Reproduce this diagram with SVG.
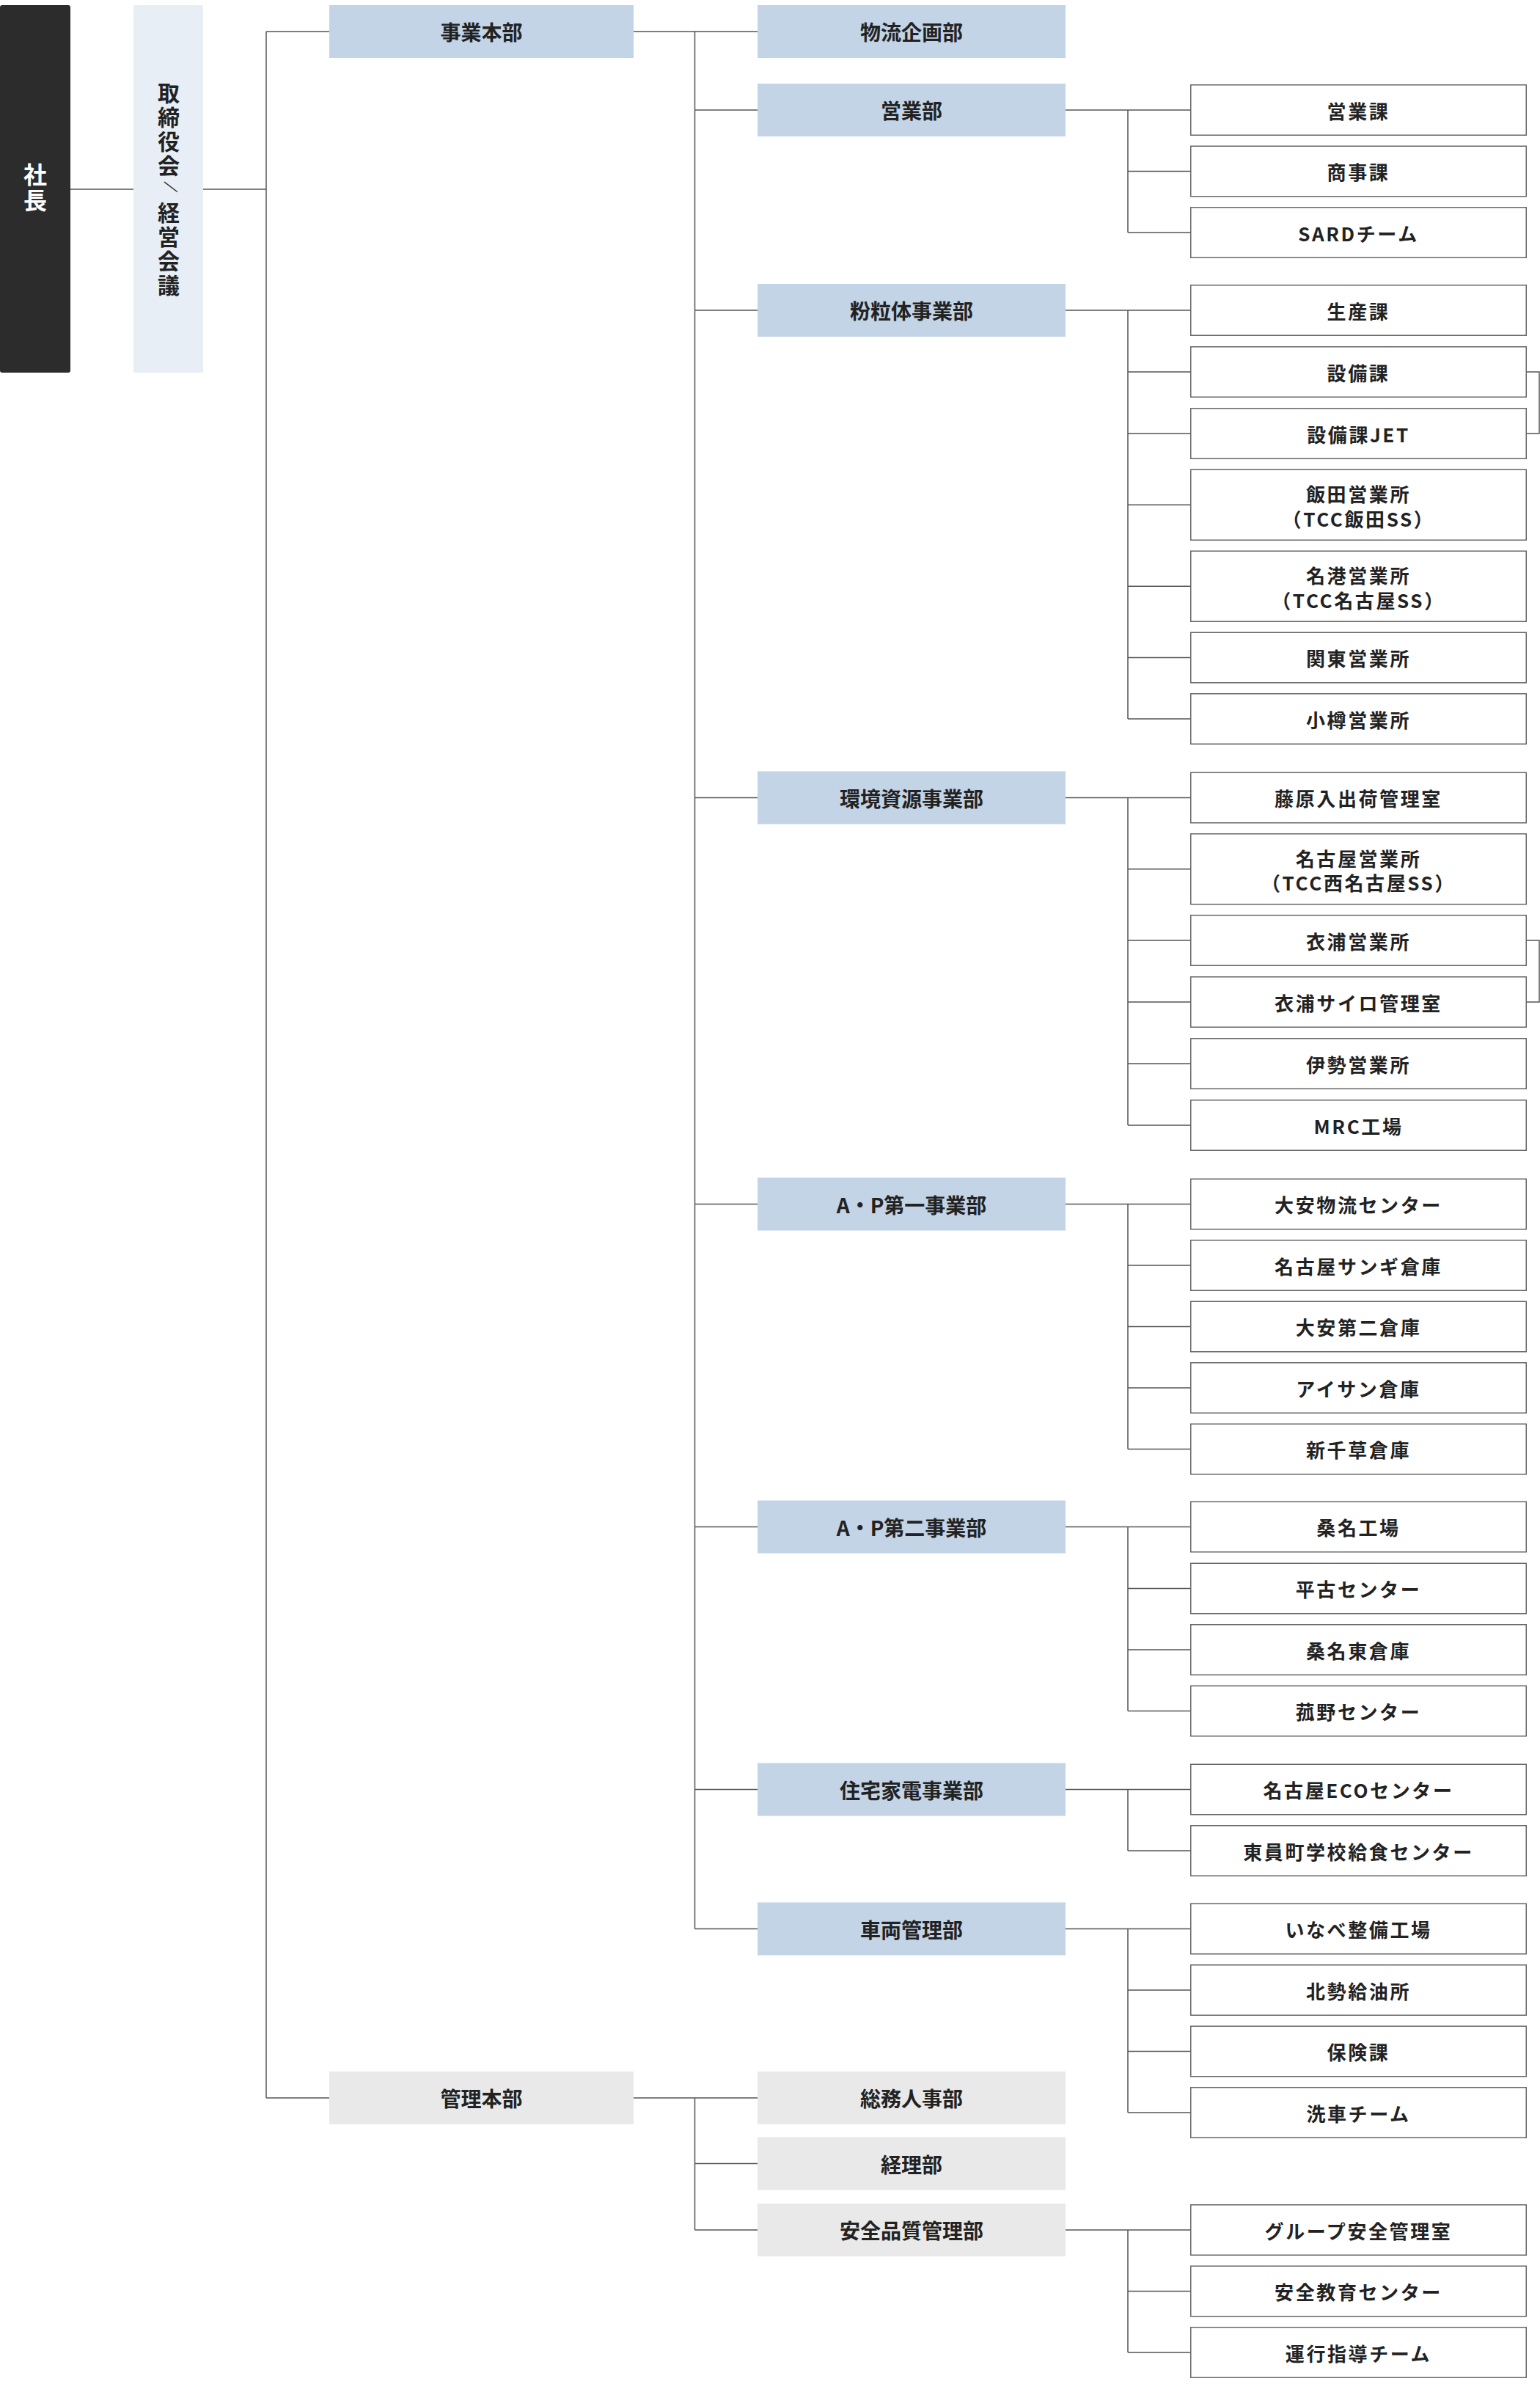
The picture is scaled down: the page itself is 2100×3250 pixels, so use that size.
<svg xmlns="http://www.w3.org/2000/svg" width="2100" height="3250" viewBox="0 0 2100 3250">
<style>
.bg{fill:#ffffff}
.ln{fill:none;stroke:#555555;stroke-width:1.5}
.pres{fill:#2c2c2c}
.board{fill:#e8eef6}
.blue{fill:#c2d4e6}
.gray{fill:#e9e9e9}
.sub{fill:#ffffff;stroke:#666666;stroke-width:1.5}
text{font-family:"Noto Sans CJK JP","Noto Sans",sans-serif;font-weight:700;fill:#222222;text-anchor:middle;dominant-baseline:central}
.t2{font-size:28px}
.t3{font-size:26px;letter-spacing:2.6px}
.vt{writing-mode:vertical-rl}
.tw{fill:#ffffff;font-size:32px;letter-spacing:3px}
.tb{font-size:30px;letter-spacing:2.8px;text-anchor:start}
.sl{font-size:22px;font-weight:400;fill:#333333}
</style>
<rect class="bg" x="0" y="0" width="2100" height="3250"/>

<g id="connectors">
<path class="ln" d="M96,258H182 M277,258H363 M363,43V2860 M363,43H449 M363,2860H449"/>
<path class="ln" d="M864,43H1033 M947.5,43V2629.5 M947.5,150H1033 M947.5,423H1033 M947.5,1087.5H1033 M947.5,1641.5H1033 M947.5,2081.5H1033 M947.5,2439.5H1033 M947.5,2629.5H1033"/>
<path class="ln" d="M864,2860H1033 M947.5,2860V3040 M947.5,2949.5H1033 M947.5,3040H1033"/>
<path class="ln" d="M1453,150H1623 M1538,150V317 M1538,233.5H1623 M1538,317H1623"/>
<path class="ln" d="M1453,423H1623 M1538,423V980 M1538,507H1623 M1538,591H1623 M1538,688.25H1623 M1538,799.25H1623 M1538,896.5H1623 M1538,980H1623"/>
<path class="ln" d="M2082,507H2099V591H2082"/>
<path class="ln" d="M1453,1087.5H1623 M1538,1087.5V1534 M1538,1184.75H1623 M1538,1282H1623 M1538,1366H1623 M1538,1450H1623 M1538,1534H1623"/>
<path class="ln" d="M2082,1282H2099V1366H2082"/>
<path class="ln" d="M1453,1641.5H1623 M1538,1641.5V1975.5 M1538,1725H1623 M1538,1808.5H1623 M1538,1892H1623 M1538,1975.5H1623"/>
<path class="ln" d="M1453,2081.5H1623 M1538,2081.5V2332.5 M1538,2165.5H1623 M1538,2249H1623 M1538,2332.5H1623"/>
<path class="ln" d="M1453,2439.5H1623 M1538,2439.5V2523 M1538,2523H1623"/>
<path class="ln" d="M1453,2629.5H1623 M1538,2629.5V2880 M1538,2713H1623 M1538,2796.5H1623 M1538,2880H1623"/>
<path class="ln" d="M1453,3040H1623 M1538,3040V3207 M1538,3123.5H1623 M1538,3207H1623"/>
</g>

<g id="president"><rect class="pres" x="0" y="7" width="96" height="501" rx="3"/><text class="vt tw" x="48" y="257">社長</text></g>
<g id="board"><rect class="board" x="182" y="7" width="95" height="501" rx="2"/><text class="vt tb" x="230" y="112">取締役会</text><text class="sl" x="236" y="256" transform="rotate(110 236 256)">/</text><text class="vt tb" x="230" y="275">経営会議</text></g>

<g id="jigyo-honbu"><rect class="blue" x="449" y="7" width="415" height="72"/><text class="t2" x="656.5" y="43">事業本部</text></g>
<g id="kanri-honbu"><rect class="gray" x="449" y="2824" width="415" height="72"/><text class="t2" x="656.5" y="2860">管理本部</text></g>

<g id="butsuryu-kikaku"><rect class="blue" x="1033" y="7" width="420" height="72"/><text class="t2" x="1243" y="43">物流企画部</text></g>
<g id="eigyo"><rect class="blue" x="1033" y="114" width="420" height="72"/><text class="t2" x="1243" y="150">営業部</text></g>
<g id="funryutai"><rect class="blue" x="1033" y="387" width="420" height="72"/><text class="t2" x="1243" y="423">粉粒体事業部</text></g>
<g id="kankyo"><rect class="blue" x="1033" y="1051.5" width="420" height="72"/><text class="t2" x="1243" y="1087.5">環境資源事業部</text></g>
<g id="ap1"><rect class="blue" x="1033" y="1605.5" width="420" height="72"/><text class="t2" x="1243" y="1641.5">A・P第一事業部</text></g>
<g id="ap2"><rect class="blue" x="1033" y="2045.5" width="420" height="72"/><text class="t2" x="1243" y="2081.5">A・P第二事業部</text></g>
<g id="jutaku"><rect class="blue" x="1033" y="2403.5" width="420" height="72"/><text class="t2" x="1243" y="2439.5">住宅家電事業部</text></g>
<g id="sharyo"><rect class="blue" x="1033" y="2593.5" width="420" height="72"/><text class="t2" x="1243" y="2629.5">車両管理部</text></g>
<g id="somu"><rect class="gray" x="1033" y="2824" width="420" height="72"/><text class="t2" x="1243" y="2860">総務人事部</text></g>
<g id="keiri"><rect class="gray" x="1033" y="2913.5" width="420" height="72"/><text class="t2" x="1243" y="2949.5">経理部</text></g>
<g id="anzen"><rect class="gray" x="1033" y="3004" width="420" height="72"/><text class="t2" x="1243" y="3040">安全品質管理部</text></g>

<g id="n-eigyoka"><rect class="sub" x="1623.75" y="115.75" width="457.5" height="68.5"/><text class="t3" x="1852.5" y="150">営業課</text></g>
<g id="n-shojika"><rect class="sub" x="1623.75" y="199.25" width="457.5" height="68.5"/><text class="t3" x="1852.5" y="233.5">商事課</text></g>
<g id="n-sard"><rect class="sub" x="1623.75" y="282.75" width="457.5" height="68.5"/><text class="t3" x="1852.5" y="317">SARDチーム</text></g>

<g id="n-seisan"><rect class="sub" x="1623.75" y="388.75" width="457.5" height="68.5"/><text class="t3" x="1852.5" y="423">生産課</text></g>
<g id="n-setsubi"><rect class="sub" x="1623.75" y="472.75" width="457.5" height="68.5"/><text class="t3" x="1852.5" y="507">設備課</text></g>
<g id="n-setsubi-jet"><rect class="sub" x="1623.75" y="556.75" width="457.5" height="68.5"/><text class="t3" x="1852.5" y="591">設備課JET</text></g>
<g id="n-iida"><rect class="sub" x="1623.75" y="640.25" width="457.5" height="96"/><text class="t3" x="1852.5" y="672.5">飯田営業所</text><text class="t3" x="1852.5" y="706">（TCC飯田SS）</text></g>
<g id="n-meiko"><rect class="sub" x="1623.75" y="751.25" width="457.5" height="96"/><text class="t3" x="1852.5" y="783.5">名港営業所</text><text class="t3" x="1852.5" y="817">（TCC名古屋SS）</text></g>
<g id="n-kanto"><rect class="sub" x="1623.75" y="862.25" width="457.5" height="68.5"/><text class="t3" x="1852.5" y="896.5">関東営業所</text></g>
<g id="n-otaru"><rect class="sub" x="1623.75" y="945.75" width="457.5" height="68.5"/><text class="t3" x="1852.5" y="980">小樽営業所</text></g>

<g id="n-fujiwara"><rect class="sub" x="1623.75" y="1053.25" width="457.5" height="68.5"/><text class="t3" x="1852.5" y="1087.5">藤原入出荷管理室</text></g>
<g id="n-nagoya"><rect class="sub" x="1623.75" y="1136.75" width="457.5" height="96"/><text class="t3" x="1852.5" y="1169">名古屋営業所</text><text class="t3" x="1852.5" y="1202.5">（TCC西名古屋SS）</text></g>
<g id="n-kinuura"><rect class="sub" x="1623.75" y="1247.75" width="457.5" height="68.5"/><text class="t3" x="1852.5" y="1282">衣浦営業所</text></g>
<g id="n-kinuura-silo"><rect class="sub" x="1623.75" y="1331.75" width="457.5" height="68.5"/><text class="t3" x="1852.5" y="1366">衣浦サイロ管理室</text></g>
<g id="n-ise"><rect class="sub" x="1623.75" y="1415.75" width="457.5" height="68.5"/><text class="t3" x="1852.5" y="1450">伊勢営業所</text></g>
<g id="n-mrc"><rect class="sub" x="1623.75" y="1499.75" width="457.5" height="68.5"/><text class="t3" x="1852.5" y="1534">MRC工場</text></g>

<g id="n-daian"><rect class="sub" x="1623.75" y="1607.25" width="457.5" height="68.5"/><text class="t3" x="1852.5" y="1641.5">大安物流センター</text></g>
<g id="n-sangi"><rect class="sub" x="1623.75" y="1690.75" width="457.5" height="68.5"/><text class="t3" x="1852.5" y="1725">名古屋サンギ倉庫</text></g>
<g id="n-daian2"><rect class="sub" x="1623.75" y="1774.25" width="457.5" height="68.5"/><text class="t3" x="1852.5" y="1808.5">大安第二倉庫</text></g>
<g id="n-aisan"><rect class="sub" x="1623.75" y="1857.75" width="457.5" height="68.5"/><text class="t3" x="1852.5" y="1892">アイサン倉庫</text></g>
<g id="n-shinchikusa"><rect class="sub" x="1623.75" y="1941.25" width="457.5" height="68.5"/><text class="t3" x="1852.5" y="1975.5">新千草倉庫</text></g>

<g id="n-kuwana"><rect class="sub" x="1623.75" y="2047.25" width="457.5" height="68.5"/><text class="t3" x="1852.5" y="2081.5">桑名工場</text></g>
<g id="n-hirako"><rect class="sub" x="1623.75" y="2131.25" width="457.5" height="68.5"/><text class="t3" x="1852.5" y="2165.5">平古センター</text></g>
<g id="n-kuwana-higashi"><rect class="sub" x="1623.75" y="2214.75" width="457.5" height="68.5"/><text class="t3" x="1852.5" y="2249">桑名東倉庫</text></g>
<g id="n-komono"><rect class="sub" x="1623.75" y="2298.25" width="457.5" height="68.5"/><text class="t3" x="1852.5" y="2332.5">菰野センター</text></g>

<g id="n-eco"><rect class="sub" x="1623.75" y="2405.25" width="457.5" height="68.5"/><text class="t3" x="1852.5" y="2439.5">名古屋ECOセンター</text></g>
<g id="n-toin"><rect class="sub" x="1623.75" y="2488.75" width="457.5" height="68.5"/><text class="t3" x="1852.5" y="2523">東員町学校給食センター</text></g>

<g id="n-inabe"><rect class="sub" x="1623.75" y="2595.25" width="457.5" height="68.5"/><text class="t3" x="1852.5" y="2629.5">いなべ整備工場</text></g>
<g id="n-hokusei"><rect class="sub" x="1623.75" y="2678.75" width="457.5" height="68.5"/><text class="t3" x="1852.5" y="2713">北勢給油所</text></g>
<g id="n-hoken"><rect class="sub" x="1623.75" y="2762.25" width="457.5" height="68.5"/><text class="t3" x="1852.5" y="2796.5">保険課</text></g>
<g id="n-sensha"><rect class="sub" x="1623.75" y="2845.75" width="457.5" height="68.5"/><text class="t3" x="1852.5" y="2880">洗車チーム</text></g>

<g id="n-group-anzen"><rect class="sub" x="1623.75" y="3005.75" width="457.5" height="68.5"/><text class="t3" x="1852.5" y="3040">グループ安全管理室</text></g>
<g id="n-anzen-kyoiku"><rect class="sub" x="1623.75" y="3089.25" width="457.5" height="68.5"/><text class="t3" x="1852.5" y="3123.5">安全教育センター</text></g>
<g id="n-unko"><rect class="sub" x="1623.75" y="3172.75" width="457.5" height="68.5"/><text class="t3" x="1852.5" y="3207">運行指導チーム</text></g>
</svg>
